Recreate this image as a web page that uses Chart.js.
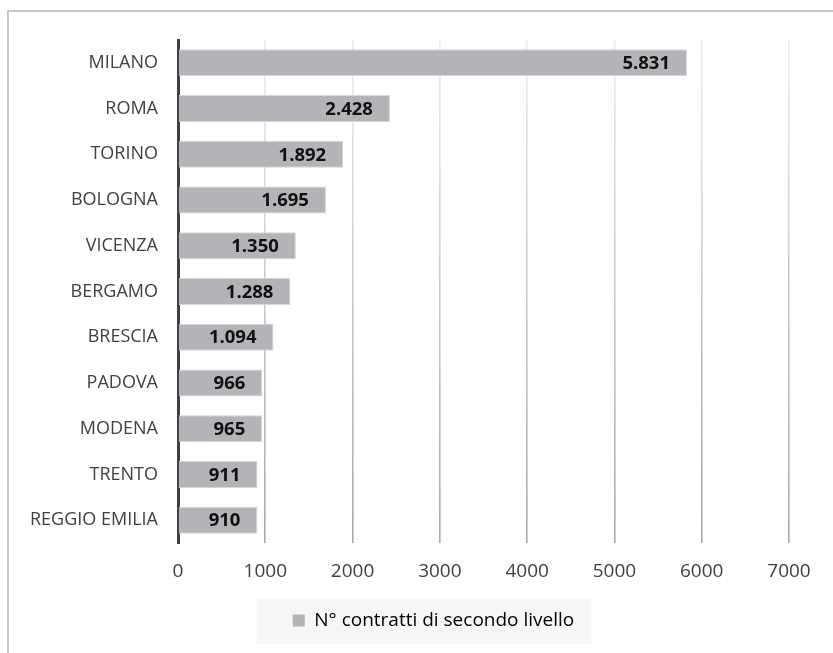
<!DOCTYPE html>
<html>
<head>
<meta charset="utf-8">
<script src="https://cdn.jsdelivr.net/npm/chart.js@4/dist/chart.umd.min.js"></script>
<style>
    body { margin: 0; background: #fff; overflow: hidden; }
    #wrap { position: relative; width: 833px; height: 653px; }
    #cornice { position: absolute; left: 7px; top: 10px; width: 840px; height: 660px;
        border-top: 2px solid #c8c8cb; border-left: 2px solid #c8c8cb; }
    #grafico { position: absolute; left: 0; top: 0; }
</style>
</head>
<body>
<div id="wrap">
    <div id="cornice"></div>
    <canvas id="grafico" width="833" height="653"></canvas>
</div>
<script>
var citta = ['MILANO', 'ROMA', 'TORINO', 'BOLOGNA', 'VICENZA', 'BERGAMO', 'BRESCIA',
    'PADOVA', 'MODENA', 'TRENTO', 'REGGIO EMILIA'];
var contratti = [5831, 2428, 1892, 1695, 1350, 1288, 1094, 966, 965, 911, 910];
var etichetta = 'N° contratti di secondo livello';
var asse_max = 7000;
var asse_passo = 1000;

var grigio_barra = '#b3b4b7';
var testo = '#404040';
var font_base = '"Open Sans", sans-serif';

function migliaia(v) {
    return String(v).replace(/\B(?=(\d{3})+(?!\d))/g, '.');
}

// linee verticali piu' chiare in alto e piu' scure in basso
function colore_griglia(c) {
    var a = c.chart.chartArea;
    if (!a) return '#d0d0d0';
    var g = c.chart.ctx.createLinearGradient(0, a.top, 0, a.bottom);
    g.addColorStop(0, '#ededed');
    g.addColorStop(1, '#a8a8ac');
    return g;
}

// valori in grassetto dentro la fine della barra
var valori_barre = {
    id: 'valori_barre',
    afterDatasetsDraw: function(chart) {
        var ctx = chart.ctx;
        var meta = chart.getDatasetMeta(0);
        ctx.save();
        ctx.font = 'bold 18.5px ' + font_base;
        ctx.fillStyle = '#111';
        ctx.textAlign = 'right';
        ctx.textBaseline = 'middle';
        meta.data.forEach(function(bar, i) {
            ctx.fillText(migliaia(contratti[i]), bar.x - 17, bar.y + 1);
        });
        ctx.restore();
    }
};

// legenda spostata un po' a destra, con sfondo grigio chiaro
var sposta_legenda = 34;
var sfondo_legenda = {
    id: 'sfondo_legenda',
    afterUpdate: function(chart) {
        var l = chart.legend;
        if (!l) return;
        l.left += sposta_legenda;
        l.right += sposta_legenda;
        (l.legendHitBoxes || []).forEach(function(h) { h.left += sposta_legenda; });
    },
    beforeDraw: function(chart) {
        var l = chart.legend;
        if (!l || !l.legendHitBoxes || !l.legendHitBoxes.length) return;
        var h = l.legendHitBoxes[0];
        var ctx = chart.ctx;
        ctx.save();
        ctx.fillStyle = '#f6f6f6';
        ctx.fillRect(h.left - 36, h.top + h.height / 2 - 22, h.width + 53, 45);
        ctx.restore();
    }
};

new Chart(document.getElementById('grafico').getContext('2d'), {
    type: 'bar',
    data: {
        labels: citta,
        datasets: [{
            label: etichetta,
            data: contratti,
            backgroundColor: grigio_barra,
            borderColor: '#d4d5d7',
            borderWidth: 1,
            borderSkipped: 'start',
            barPercentage: 0.59,
            categoryPercentage: 1
        }]
    },
    options: {
        indexAxis: 'y',
        responsive: false,
        animation: false,
        layout: { padding: { left: 10, right: 44, top: 40, bottom: 13 } },
        scales: {
            x: {
                min: 0,
                max: asse_max,
                ticks: {
                    stepSize: asse_passo,
                    padding: 17,
                    color: testo,
                    font: { family: font_base, size: 19 },
                    callback: function(v) { return v; }
                },
                grid: { color: colore_griglia, lineWidth: 1.6, drawTicks: false },
                border: { display: false },
                afterFit: function(s) { s.height = 58; }
            },
            y: {
                ticks: {
                    padding: 20,
                    color: testo,
                    font: { family: font_base, size: 18 }
                },
                grid: { display: false, drawTicks: false },
                border: { display: true, color: '#404040', width: 3 },
                afterFit: function(s) { s.width = 168; }
            }
        },
        plugins: {
            legend: {
                position: 'bottom',
                labels: {
                    boxWidth: 12,
                    boxHeight: 12,
                    padding: 10,
                    color: testo,
                    font: { family: font_base, size: 19 },
                    generateLabels: function(chart) {
                        return [{
                            text: etichetta,
                            fillStyle: grigio_barra,
                            strokeStyle: grigio_barra,
                            lineWidth: 0,
                            datasetIndex: 0
                        }];
                    }
                }
            },
            tooltip: { enabled: false }
        }
    },
    plugins: [sfondo_legenda, valori_barre]
});
</script>
</body>
</html>
